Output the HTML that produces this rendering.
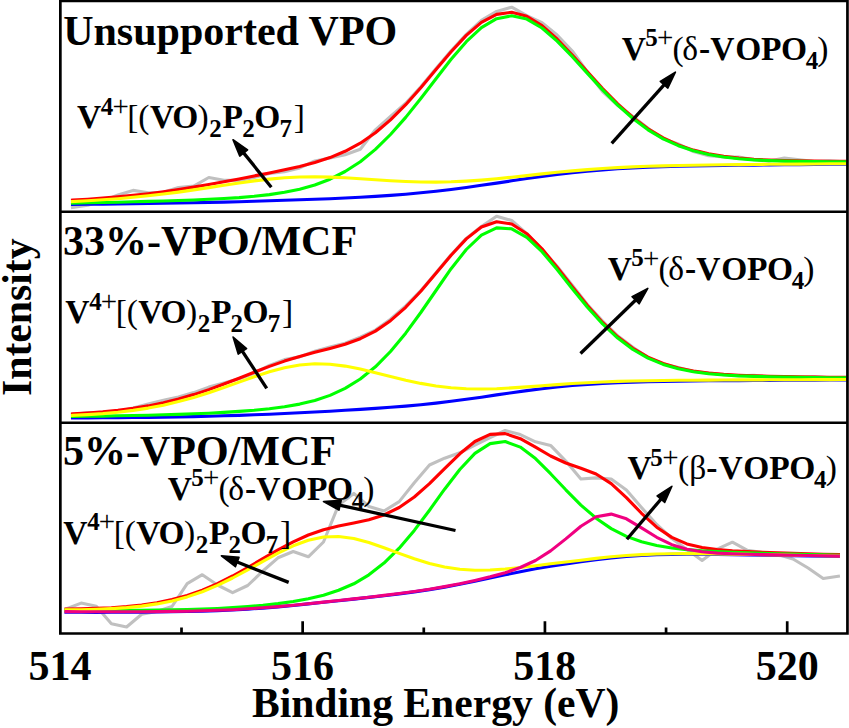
<!DOCTYPE html>
<html><head><meta charset="utf-8"><style>
html,body{margin:0;padding:0;background:#fff;}
svg{display:block;}
text{font-family:"Liberation Serif", serif;fill:#000;}
.c{fill:none;stroke-width:3.1;stroke-linejoin:round;stroke-linecap:square;}
</style></head><body>
<svg width="849" height="728" viewBox="0 0 849 728">
<rect width="849" height="728" fill="#fff"/>
<polyline class="c" stroke="#c0c0c0" points="72.5,207.6 87.6,205.2 102.8,201.1 117.9,194.9 133.1,190.4 148.2,192.7 163.4,192.2 178.5,187.5 193.7,186.1 208.8,177.5 223.9,180.3 239.1,180.4 254.2,177.4 269.4,173.4 284.5,171.8 299.7,167.9 314.8,160.9 330.0,158.1 345.1,154.8 360.3,149.2 375.4,129.8 390.5,116.4 405.7,103.2 420.8,86.7 436.0,68.6 451.1,50.7 466.3,34.4 481.4,20.4 496.6,11.4 511.7,7.2 526.8,15.7 542.0,22.6 557.1,35.0 572.3,51.0 587.4,71.9 602.6,91.5 617.7,105.4 632.9,116.5 648.0,128.3 663.2,138.9 678.3,143.9 693.4,151.6 708.6,155.8 723.7,156.9 738.9,157.1 754.0,159.8 769.2,161.1 784.3,158.1 799.5,159.9 814.6,161.6 829.8,160.8 844.9,161.9"/>
<polyline class="c" stroke="#0000ff" points="72.5,204.5 87.6,204.3 102.8,204.2 117.9,204.0 133.1,203.8 148.2,203.5 163.4,203.3 178.5,203.0 193.7,202.7 208.8,202.4 223.9,202.1 239.1,201.7 254.2,201.3 269.4,200.8 284.5,200.3 299.7,199.8 314.8,199.3 330.0,198.7 345.1,198.0 360.3,197.2 375.4,196.4 390.5,195.4 405.7,194.2 420.8,192.8 436.0,191.2 451.1,189.5 466.3,187.5 481.4,185.3 496.6,183.1 511.7,180.8 526.8,178.5 542.0,176.4 557.1,174.4 572.3,172.7 587.4,171.2 602.6,169.9 617.7,168.8 632.9,168.0 648.0,167.3 663.2,166.8 678.3,166.3 693.4,166.0 708.6,165.7 723.7,165.5 738.9,165.3 754.0,165.1 769.2,164.9 784.3,164.7 799.5,164.6 814.6,164.4 829.8,164.3 844.9,164.1"/>
<polyline class="c" stroke="#ff0000" points="72.5,200.1 87.6,199.2 102.8,198.1 117.9,196.9 133.1,195.4 148.2,193.7 163.4,191.7 178.5,189.5 193.7,187.1 208.8,184.5 223.9,181.8 239.1,178.9 254.2,175.9 269.4,172.9 284.5,169.8 299.7,166.4 314.8,162.4 330.0,157.6 345.1,151.3 360.3,143.2 375.4,132.8 390.5,119.9 405.7,104.7 420.8,87.7 436.0,69.6 451.1,51.7 466.3,35.4 481.4,22.4 496.6,14.4 511.7,12.2 526.8,16.2 542.0,25.6 557.1,39.0 572.3,55.0 587.4,71.9 602.6,88.5 617.7,103.9 632.9,117.5 648.0,128.8 663.2,137.9 678.3,144.9 693.4,150.1 708.6,153.8 723.7,156.4 738.9,158.1 754.0,159.3 769.2,160.1 784.3,160.6 799.5,160.9 814.6,161.1 829.8,161.3 844.9,161.4"/>
<polyline class="c" stroke="#00ff00" points="72.5,203.1 87.6,202.8 102.8,202.5 117.9,202.2 133.1,201.8 148.2,201.4 163.4,201.0 178.5,200.5 193.7,200.0 208.8,199.3 223.9,198.5 239.1,197.6 254.2,196.3 269.4,194.6 284.5,192.3 299.7,189.2 314.8,185.0 330.0,179.2 345.1,171.5 360.3,161.7 375.4,149.4 390.5,134.5 405.7,117.4 420.8,98.5 436.0,78.7 451.1,59.3 466.3,41.7 481.4,27.7 496.6,18.7 511.7,15.8 526.8,19.1 542.0,28.0 557.1,41.1 572.3,56.7 587.4,73.4 602.6,89.9 617.7,105.1 632.9,118.5 648.0,129.8 663.2,138.8 678.3,145.7 693.4,150.8 708.6,154.5 723.7,157.0 738.9,158.8 754.0,159.9 769.2,160.6 784.3,161.1 799.5,161.4 814.6,161.6 829.8,161.7 844.9,161.8"/>
<polyline class="c" stroke="#ffff00" points="72.5,201.5 87.6,200.7 102.8,199.8 117.9,198.7 133.1,197.3 148.2,195.8 163.4,194.0 178.5,192.1 193.7,189.9 208.8,187.6 223.9,185.3 239.1,183.0 254.2,180.9 269.4,179.1 284.5,177.8 299.7,177.0 314.8,176.7 330.0,177.1 345.1,177.8 360.3,178.7 375.4,179.8 390.5,180.8 405.7,181.5 420.8,182.0 436.0,182.1 451.1,181.8 466.3,181.1 481.4,180.1 496.6,178.8 511.7,177.2 526.8,175.6 542.0,173.9 557.1,172.3 572.3,170.9 587.4,169.6 602.6,168.5 617.7,167.6 632.9,166.9 648.0,166.3 663.2,165.9 678.3,165.5 693.4,165.2 708.6,165.0 723.7,164.8 738.9,164.6 754.0,164.5 769.2,164.3 784.3,164.2 799.5,164.1 814.6,164.0 829.8,163.8 844.9,163.7"/>
<polyline class="c" stroke="#c0c0c0" points="72.5,414.9 87.6,412.5 102.8,412.4 117.9,411.4 133.1,407.9 148.2,403.9 163.4,400.3 178.5,397.1 193.7,392.6 208.8,387.1 223.9,383.0 239.1,378.7 254.2,373.2 269.4,365.4 284.5,359.6 299.7,356.9 314.8,351.3 330.0,346.9 345.1,343.2 360.3,337.2 375.4,330.1 390.5,319.2 405.7,305.8 420.8,290.7 436.0,272.8 451.1,254.7 466.3,238.4 481.4,226.5 496.6,216.2 511.7,220.5 526.8,233.7 542.0,249.3 557.1,266.2 572.3,285.2 587.4,304.5 602.6,321.0 617.7,335.8 632.9,347.3 648.0,357.6 663.2,363.9 678.3,367.4 693.4,371.5 708.6,373.0 723.7,374.8 738.9,375.7 754.0,375.3 769.2,376.7 784.3,376.6 799.5,377.8 814.6,376.5 829.8,377.7 844.9,377.8"/>
<polyline class="c" stroke="#0000ff" points="72.5,418.0 87.6,417.9 102.8,417.8 117.9,417.7 133.1,417.5 148.2,417.4 163.4,417.1 178.5,416.9 193.7,416.6 208.8,416.3 223.9,415.8 239.1,415.4 254.2,414.8 269.4,414.2 284.5,413.5 299.7,412.8 314.8,412.0 330.0,411.2 345.1,410.3 360.3,409.4 375.4,408.4 390.5,407.3 405.7,406.1 420.8,404.7 436.0,403.1 451.1,401.3 466.3,399.3 481.4,397.2 496.6,394.9 511.7,392.7 526.8,390.6 542.0,388.7 557.1,387.0 572.3,385.5 587.4,384.4 602.6,383.4 617.7,382.7 632.9,382.2 648.0,381.7 663.2,381.4 678.3,381.2 693.4,381.0 708.6,380.8 723.7,380.7 738.9,380.6 754.0,380.5 769.2,380.4 784.3,380.3 799.5,380.2 814.6,380.1 829.8,380.0 844.9,380.0"/>
<polyline class="c" stroke="#ff0000" points="72.5,413.9 87.6,413.0 102.8,411.9 117.9,410.4 133.1,408.4 148.2,405.9 163.4,402.8 178.5,399.1 193.7,394.6 208.8,389.6 223.9,384.0 239.1,378.2 254.2,372.2 269.4,366.4 284.5,361.1 299.7,356.4 314.8,352.3 330.0,348.4 345.1,344.2 360.3,338.7 375.4,331.1 390.5,320.7 405.7,307.3 420.8,291.2 436.0,273.3 451.1,255.2 466.3,238.9 481.4,227.0 496.6,221.7 511.7,224.0 526.8,233.7 542.0,248.8 557.1,267.2 572.3,286.7 587.4,305.5 602.6,322.5 617.7,336.8 632.9,348.3 648.0,357.1 663.2,363.4 678.3,367.9 693.4,371.0 708.6,373.0 723.7,374.3 738.9,375.2 754.0,375.8 769.2,376.2 784.3,376.6 799.5,376.8 814.6,377.0 829.8,377.2 844.9,377.3"/>
<polyline class="c" stroke="#00ff00" points="72.5,416.5 87.6,416.3 102.8,416.1 117.9,415.8 133.1,415.5 148.2,415.2 163.4,414.8 178.5,414.4 193.7,413.8 208.8,413.2 223.9,412.4 239.1,411.4 254.2,410.3 269.4,408.8 284.5,406.8 299.7,404.1 314.8,400.5 330.0,395.4 345.1,388.4 360.3,379.0 375.4,366.8 390.5,351.5 405.7,333.2 420.8,312.5 436.0,290.5 451.1,268.7 466.3,249.5 481.4,235.1 496.6,227.9 511.7,228.8 526.8,237.4 542.0,251.7 557.1,269.6 572.3,288.7 587.4,307.2 602.6,323.9 617.7,338.1 632.9,349.5 648.0,358.1 663.2,364.4 678.3,368.8 693.4,371.8 708.6,373.8 723.7,375.0 738.9,375.9 754.0,376.4 769.2,376.8 784.3,377.1 799.5,377.3 814.6,377.5 829.8,377.7 844.9,377.8"/>
<polyline class="c" stroke="#ffff00" points="72.5,415.4 87.6,414.6 102.8,413.6 117.9,412.2 133.1,410.4 148.2,408.1 163.4,405.2 178.5,401.6 193.7,397.4 208.8,392.7 223.9,387.5 239.1,382.1 254.2,376.7 269.4,371.8 284.5,367.8 299.7,365.0 314.8,363.8 330.0,364.2 345.1,366.1 360.3,369.1 375.4,372.7 390.5,376.5 405.7,380.2 420.8,383.4 436.0,386.0 451.1,387.8 466.3,388.8 481.4,389.0 496.6,388.7 511.7,387.9 526.8,386.9 542.0,385.7 557.1,384.6 572.3,383.5 587.4,382.7 602.6,382.0 617.7,381.4 632.9,381.0 648.0,380.7 663.2,380.5 678.3,380.3 693.4,380.2 708.6,380.1 723.7,380.0 738.9,379.9 754.0,379.9 769.2,379.8 784.3,379.7 799.5,379.7 814.6,379.6 829.8,379.6 844.9,379.5"/>
<polyline class="c" stroke="#c0c0c0" points="66.0,609.0 81.1,603.1 96.3,606.3 111.4,623.7 126.6,627.0 141.7,614.2 156.9,611.5 172.0,606.5 187.2,583.6 202.3,574.7 217.4,585.0 232.6,592.7 247.7,585.5 262.9,571.0 278.0,557.8 293.2,551.5 308.3,556.8 323.5,542.0 338.6,505.0 353.8,493.4 368.9,506.5 384.0,511.0 399.2,501.6 414.3,482.7 429.5,465.0 444.6,458.2 459.8,452.8 474.9,445.0 490.1,437.5 505.2,430.5 520.3,434.6 535.5,441.8 550.6,445.4 565.8,461.1 580.9,479.0 596.1,477.9 611.2,479.1 626.4,490.0 641.5,507.5 656.7,524.5 671.8,538.5 686.9,549.5 702.1,560.5 717.2,549.2 732.4,542.2 747.5,550.4 762.7,552.5 777.8,554.5 793.0,559.0 808.1,568.0 823.2,578.5 838.4,576.2"/>
<polyline class="c" stroke="#0000ff" points="66.0,612.2 81.1,612.3 96.3,612.4 111.4,612.3 126.6,612.3 141.7,612.2 156.9,612.0 172.0,611.8 187.2,611.5 202.3,611.2 217.4,610.6 232.6,610.0 247.7,609.1 262.9,608.1 278.0,606.9 293.2,605.5 308.3,603.9 323.5,602.3 338.6,600.7 353.8,599.1 368.9,597.4 384.0,595.7 399.2,593.9 414.3,591.9 429.5,589.6 444.6,587.1 459.8,584.3 474.9,581.3 490.1,578.0 505.2,574.8 520.3,571.7 535.5,568.8 550.6,566.2 565.8,563.9 580.9,561.7 596.1,559.7 611.2,558.0 626.4,556.5 641.5,555.5 656.7,554.8 671.8,554.4 686.9,554.3 702.1,554.3 717.2,554.5 732.4,554.7 747.5,554.9 762.7,555.2 777.8,555.4 793.0,555.6 808.1,555.9 823.2,556.1 838.4,556.4"/>
<polyline class="c" stroke="#ff0000" points="66.0,609.1 81.1,608.8 96.3,608.4 111.4,607.7 126.6,606.6 141.7,605.0 156.9,602.7 172.0,599.6 187.2,595.4 202.3,590.1 217.4,583.6 232.6,576.0 247.7,567.6 262.9,558.7 278.0,549.9 293.2,541.8 308.3,535.0 323.5,529.7 338.6,526.0 353.8,523.0 368.9,519.7 384.0,514.9 399.2,507.5 414.3,497.0 429.5,483.7 444.6,468.7 459.8,453.8 474.9,441.5 490.1,434.4 505.2,433.6 520.3,438.7 535.5,447.2 550.6,456.0 565.8,463.0 580.9,468.2 596.1,474.0 611.2,483.6 626.4,497.6 641.5,513.3 656.7,527.2 671.8,537.4 686.9,543.9 702.1,547.6 717.2,549.6 732.4,550.8 747.5,551.6 762.7,552.3 777.8,552.8 793.0,553.3 808.1,553.8 823.2,554.2 838.4,554.6"/>
<polyline class="c" stroke="#00ff00" points="66.0,610.4 81.1,610.5 96.3,610.5 111.4,610.5 126.6,610.4 141.7,610.3 156.9,610.1 172.0,609.9 187.2,609.5 202.3,609.1 217.4,608.5 232.6,607.6 247.7,606.6 262.9,605.3 278.0,603.6 293.2,601.5 308.3,598.8 323.5,595.2 338.6,590.3 353.8,583.8 368.9,574.8 384.0,563.1 399.2,548.2 414.3,530.4 429.5,510.2 444.6,489.2 459.8,469.5 474.9,453.4 490.1,443.6 505.2,441.5 520.3,447.1 535.5,458.6 550.6,473.7 565.8,489.8 580.9,505.1 596.1,518.2 611.2,528.6 626.4,536.4 641.5,541.8 656.7,545.5 671.8,548.0 686.9,549.6 702.1,550.8 717.2,551.6 732.4,552.3 747.5,552.8 762.7,553.3 777.8,553.7 793.0,554.1 808.1,554.5 823.2,554.9 838.4,555.2"/>
<polyline class="c" stroke="#ffff00" points="66.0,609.9 81.1,609.7 96.3,609.3 111.4,608.6 126.6,607.6 141.7,606.1 156.9,603.9 172.0,600.9 187.2,596.9 202.3,591.7 217.4,585.4 232.6,578.0 247.7,569.9 262.9,561.4 278.0,553.1 293.2,545.8 308.3,540.2 323.5,537.0 338.6,536.5 353.8,538.5 368.9,542.5 384.0,547.7 399.2,553.4 414.3,558.8 429.5,563.5 444.6,567.0 459.8,569.3 474.9,570.2 490.1,570.0 505.2,569.0 520.3,567.5 535.5,565.7 550.6,563.8 565.8,562.0 580.9,560.2 596.1,558.4 611.2,556.8 626.4,555.5 641.5,554.6 656.7,554.0 671.8,553.7 686.9,553.6 702.1,553.7 717.2,553.9 732.4,554.1 747.5,554.4 762.7,554.7 777.8,554.9 793.0,555.2 808.1,555.5 823.2,555.7 838.4,556.0"/>
<polyline class="c" stroke="#f00080" points="66.0,611.6 81.1,611.7 96.3,611.8 111.4,611.8 126.6,611.8 141.7,611.7 156.9,611.6 172.0,611.4 187.2,611.2 202.3,610.8 217.4,610.3 232.6,609.7 247.7,608.8 262.9,607.8 278.0,606.6 293.2,605.3 308.3,603.8 323.5,602.1 338.6,600.5 353.8,598.9 368.9,597.2 384.0,595.4 399.2,593.5 414.3,591.5 429.5,589.2 444.6,586.6 459.8,583.7 474.9,580.4 490.1,576.8 505.2,572.7 520.3,567.5 535.5,560.5 550.6,550.9 565.8,538.9 580.9,526.3 596.1,516.8 611.2,514.1 626.4,518.8 641.5,527.9 656.7,537.3 671.8,544.7 686.9,549.3 702.1,551.8 717.2,553.1 732.4,553.8 747.5,554.3 762.7,554.6 777.8,554.9 793.0,555.2 808.1,555.5 823.2,555.8 838.4,556.1"/>
<path d="M60.35,1.0 H847.45 V633.5 H60.35 Z M60.35,211.75 H847.45 M60.35,422.75 H847.45" fill="none" stroke="#000" stroke-width="2.7" stroke-linecap="square"/>
<path d="M181.51,633.5 V627.5 M302.65,633.5 V621.3 M423.79,633.5 V627.5 M544.93,633.5 V621.3 M666.07,633.5 V627.5 M787.21,633.5 V621.3" stroke="#000" stroke-width="2.7" fill="none"/>
<line x1="271.3" y1="187.2" x2="242.4" y2="151.4" stroke="#000" stroke-width="3.3"/><polygon points="233.0,139.7 247.6,149.8 239.8,156.1" fill="#000" stroke="#000" stroke-width="1.6" stroke-linejoin="round"/>
<line x1="611.7" y1="143.4" x2="665.4" y2="83.3" stroke="#000" stroke-width="3.3"/><polygon points="675.4,72.1 667.8,88.1 660.3,81.4" fill="#000" stroke="#000" stroke-width="1.6" stroke-linejoin="round"/>
<line x1="266.7" y1="388.3" x2="241.3" y2="349.6" stroke="#000" stroke-width="3.3"/><polygon points="233.1,337.1 246.6,348.6 238.2,354.1" fill="#000" stroke="#000" stroke-width="1.6" stroke-linejoin="round"/>
<line x1="580.5" y1="353.5" x2="637.0" y2="298.8" stroke="#000" stroke-width="3.3"/><polygon points="647.8,288.4 639.1,303.8 632.1,296.6" fill="#000" stroke="#000" stroke-width="1.6" stroke-linejoin="round"/>
<line x1="455.5" y1="530.5" x2="338.2" y2="504.8" stroke="#000" stroke-width="3.3"/><polygon points="323.5,501.6 341.2,500.4 339.0,510.1" fill="#000" stroke="#000" stroke-width="1.6" stroke-linejoin="round"/>
<line x1="288.7" y1="582.4" x2="235.3" y2="561.3" stroke="#000" stroke-width="3.3"/><polygon points="221.4,555.8 239.0,557.4 235.4,566.7" fill="#000" stroke="#000" stroke-width="1.6" stroke-linejoin="round"/>
<line x1="626.9" y1="539.2" x2="662.2" y2="497.7" stroke="#000" stroke-width="3.3"/><polygon points="671.9,486.3 664.7,502.5 657.1,496.0" fill="#000" stroke="#000" stroke-width="1.6" stroke-linejoin="round"/>
<text x="63.15" y="44.50" font-size="42" font-weight="bold">Unsupported VPO</text>
<text x="63.12" y="255.20" font-size="42" font-weight="bold">33%-VPO/MCF</text>
<text x="63.02" y="465.20" font-size="42" font-weight="bold">5%-VPO/MCF</text>
<text x="76.92" y="128.20" font-size="33.5" font-weight="bold">V</text>
<text x="100.86" y="114.60" font-size="25" font-weight="bold">4</text>
<text x="112.46" y="115.80" font-size="29" font-weight="normal">+</text>
<text x="127.31" y="128.20" font-size="33.5" font-weight="normal">[</text>
<text x="138.33" y="128.20" font-size="33.5" font-weight="normal">(</text>
<text x="150.02" y="128.20" font-size="33.5" font-weight="bold">V</text>
<text x="172.16" y="128.20" font-size="33.5" font-weight="bold">O</text>
<text x="197.62" y="128.20" font-size="33.5" font-weight="normal">)</text>
<text x="209.35" y="137.20" font-size="25" font-weight="bold">2</text>
<text x="222.53" y="128.20" font-size="33.5" font-weight="bold">P</text>
<text x="242.25" y="137.20" font-size="25" font-weight="bold">2</text>
<text x="254.16" y="128.20" font-size="33.5" font-weight="bold">O</text>
<text x="279.47" y="137.20" font-size="25" font-weight="bold">7</text>
<text x="293.69" y="128.20" font-size="33.5" font-weight="normal">]</text>
<text x="621.72" y="59.50" font-size="33.5" font-weight="bold">V</text>
<text x="645.30" y="45.90" font-size="25" font-weight="bold">5</text>
<text x="656.96" y="47.10" font-size="29" font-weight="normal">+</text>
<text x="672.43" y="59.50" font-size="33.5" font-weight="normal">(</text>
<text x="682.34" y="59.50" font-size="33.5" font-weight="normal">δ</text>
<text x="699.07" y="59.50" font-size="33.5" font-weight="bold">-</text>
<text x="710.32" y="59.50" font-size="33.5" font-weight="bold">V</text>
<text x="735.16" y="59.50" font-size="33.5" font-weight="bold">O</text>
<text x="761.03" y="59.50" font-size="33.5" font-weight="bold">P</text>
<text x="780.96" y="59.50" font-size="33.5" font-weight="bold">O</text>
<text x="805.76" y="68.50" font-size="25" font-weight="bold">4</text>
<text x="817.32" y="59.50" font-size="33.5" font-weight="normal">)</text>
<text x="65.27" y="323.10" font-size="33.5" font-weight="bold">V</text>
<text x="89.21" y="309.50" font-size="25" font-weight="bold">4</text>
<text x="100.81" y="310.70" font-size="29" font-weight="normal">+</text>
<text x="115.66" y="323.10" font-size="33.5" font-weight="normal">[</text>
<text x="126.68" y="323.10" font-size="33.5" font-weight="normal">(</text>
<text x="138.37" y="323.10" font-size="33.5" font-weight="bold">V</text>
<text x="160.51" y="323.10" font-size="33.5" font-weight="bold">O</text>
<text x="185.97" y="323.10" font-size="33.5" font-weight="normal">)</text>
<text x="197.70" y="332.10" font-size="25" font-weight="bold">2</text>
<text x="210.88" y="323.10" font-size="33.5" font-weight="bold">P</text>
<text x="230.60" y="332.10" font-size="25" font-weight="bold">2</text>
<text x="242.51" y="323.10" font-size="33.5" font-weight="bold">O</text>
<text x="267.82" y="332.10" font-size="25" font-weight="bold">7</text>
<text x="282.04" y="323.10" font-size="33.5" font-weight="normal">]</text>
<text x="607.72" y="279.90" font-size="33.5" font-weight="bold">V</text>
<text x="631.30" y="266.30" font-size="25" font-weight="bold">5</text>
<text x="642.96" y="267.50" font-size="29" font-weight="normal">+</text>
<text x="658.43" y="279.90" font-size="33.5" font-weight="normal">(</text>
<text x="668.34" y="279.90" font-size="33.5" font-weight="normal">δ</text>
<text x="685.07" y="279.90" font-size="33.5" font-weight="bold">-</text>
<text x="696.32" y="279.90" font-size="33.5" font-weight="bold">V</text>
<text x="721.16" y="279.90" font-size="33.5" font-weight="bold">O</text>
<text x="747.03" y="279.90" font-size="33.5" font-weight="bold">P</text>
<text x="766.96" y="279.90" font-size="33.5" font-weight="bold">O</text>
<text x="791.76" y="288.90" font-size="25" font-weight="bold">4</text>
<text x="803.32" y="279.90" font-size="33.5" font-weight="normal">)</text>
<text x="167.72" y="499.70" font-size="33.5" font-weight="bold">V</text>
<text x="191.30" y="486.10" font-size="25" font-weight="bold">5</text>
<text x="202.96" y="487.30" font-size="29" font-weight="normal">+</text>
<text x="218.43" y="499.70" font-size="33.5" font-weight="normal">(</text>
<text x="228.34" y="499.70" font-size="33.5" font-weight="normal">δ</text>
<text x="245.07" y="499.70" font-size="33.5" font-weight="bold">-</text>
<text x="256.32" y="499.70" font-size="33.5" font-weight="bold">V</text>
<text x="281.16" y="499.70" font-size="33.5" font-weight="bold">O</text>
<text x="307.03" y="499.70" font-size="33.5" font-weight="bold">P</text>
<text x="326.96" y="499.70" font-size="33.5" font-weight="bold">O</text>
<text x="351.76" y="508.70" font-size="25" font-weight="bold">4</text>
<text x="363.32" y="499.70" font-size="33.5" font-weight="normal">)</text>
<text x="63.27" y="543.80" font-size="33.5" font-weight="bold">V</text>
<text x="87.21" y="530.20" font-size="25" font-weight="bold">4</text>
<text x="98.81" y="531.40" font-size="29" font-weight="normal">+</text>
<text x="113.66" y="543.80" font-size="33.5" font-weight="normal">[</text>
<text x="124.68" y="543.80" font-size="33.5" font-weight="normal">(</text>
<text x="136.37" y="543.80" font-size="33.5" font-weight="bold">V</text>
<text x="158.51" y="543.80" font-size="33.5" font-weight="bold">O</text>
<text x="183.97" y="543.80" font-size="33.5" font-weight="normal">)</text>
<text x="195.70" y="552.80" font-size="25" font-weight="bold">2</text>
<text x="208.88" y="543.80" font-size="33.5" font-weight="bold">P</text>
<text x="228.60" y="552.80" font-size="25" font-weight="bold">2</text>
<text x="240.51" y="543.80" font-size="33.5" font-weight="bold">O</text>
<text x="265.82" y="552.80" font-size="25" font-weight="bold">7</text>
<text x="280.04" y="543.80" font-size="33.5" font-weight="normal">]</text>
<text x="627.42" y="479.20" font-size="33.5" font-weight="bold">V</text>
<text x="650.20" y="465.60" font-size="25" font-weight="bold">5</text>
<text x="662.16" y="466.80" font-size="29" font-weight="normal">+</text>
<text x="677.93" y="479.20" font-size="33.5" font-weight="normal">(</text>
<text x="689.24" y="479.20" font-size="33.5" font-weight="normal">β</text>
<text x="706.37" y="479.20" font-size="33.5" font-weight="bold">-</text>
<text x="718.52" y="479.20" font-size="33.5" font-weight="bold">V</text>
<text x="743.36" y="479.20" font-size="33.5" font-weight="bold">O</text>
<text x="769.23" y="479.20" font-size="33.5" font-weight="bold">P</text>
<text x="789.16" y="479.20" font-size="33.5" font-weight="bold">O</text>
<text x="813.96" y="488.20" font-size="25" font-weight="bold">4</text>
<text x="825.72" y="479.20" font-size="33.5" font-weight="normal">)</text>
<text x="28.42" y="679.90" font-size="42" font-weight="bold">514</text>
<text x="270.92" y="679.90" font-size="42" font-weight="bold">516</text>
<text x="513.29" y="679.90" font-size="42" font-weight="bold">518</text>
<text x="755.67" y="679.90" font-size="42" font-weight="bold">520</text>
<text x="251.91" y="716.60" font-size="41.6" font-weight="bold">Binding Energy (eV)</text>
<text transform="translate(31.0,396.00) rotate(-90)" x="0" y="0" font-size="41.7" font-weight="bold">Intensity</text>
</svg>
</body></html>
